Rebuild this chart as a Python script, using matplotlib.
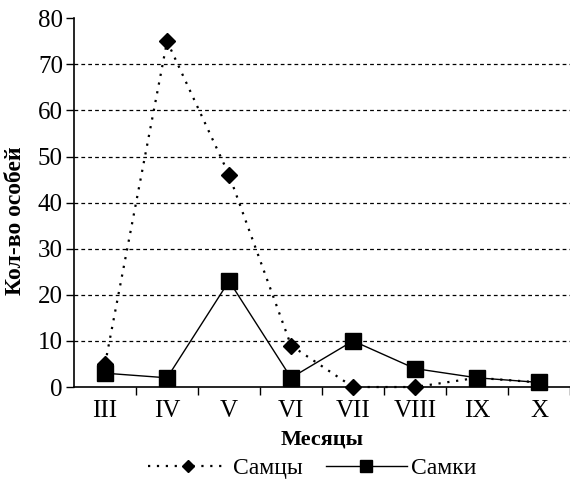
import matplotlib
matplotlib.use("Agg")
import matplotlib.pyplot as plt
import numpy as np

months = ["III", "IV", "V", "VI", "VII", "VIII", "IX", "X"]
males = [5, 75, 46, 9, 0, 0, 2, 1]
females = [3, 2, 23, 2, 10, 4, 2, 1]
y_ticks = [0, 10, 20, 30, 40, 50, 60, 70, 80]

plt.rcParams["font.family"] = ["Liberation Serif", "DejaVu Serif"]

fig = plt.figure(figsize=(5.7, 4.79), dpi=100)
ax = fig.add_axes([0.13, 0.192, 0.87, 0.770])

x = np.arange(len(months))
ax.plot(x, males, linestyle=(0, (1, 3)), linewidth=1.6, color="black",
        marker="D", markersize=8, label="Самцы", clip_on=False, zorder=3)
ax.plot(x, females, linestyle="-", linewidth=1.0, color="black",
        marker="s", markersize=11, label="Самки", clip_on=False, zorder=4)

ax.set_xlim(-0.5, len(months) - 0.5)
ax.set_ylim(0, 80)
ax.set_yticks(y_ticks)
ax.set_xticks(x)
ax.set_xticklabels(months)
ax.set_xticks(np.arange(len(months)) + 0.5, minor=True)
ax.tick_params(axis="x", which="major", length=0, labelsize=18, pad=9)
ax.tick_params(axis="x", which="minor", length=6, width=1.0, direction="out")
ax.tick_params(axis="y", length=6, width=1.0, direction="out", labelsize=18, pad=2)

for s in ["top", "right"]:
    ax.spines[s].set_visible(False)
for s in ["left", "bottom"]:
    ax.spines[s].set_linewidth(1.2)

ax.yaxis.grid(True, linestyle=(0, (3, 2.5)), linewidth=0.9, color="black")
ax.get_ygridlines()[-1].set_visible(False)
ax.get_ygridlines()[0].set_visible(False)
ax.set_axisbelow(True)

ax.set_ylabel("Кол-во особей", fontsize=17, fontweight="bold")
ax.yaxis.set_label_coords(-0.097, 0.45)
ax.set_xlabel("Месяцы", fontsize=16, fontweight="bold", labelpad=6)

fig.legend(loc="lower center", bbox_to_anchor=(0.548, -0.045), ncol=2,
           frameon=False, fontsize=17, handlelength=3.4, columnspacing=1.0,
           handletextpad=0.2, markerscale=0.8)

fig.savefig("out.png", dpi=100)
